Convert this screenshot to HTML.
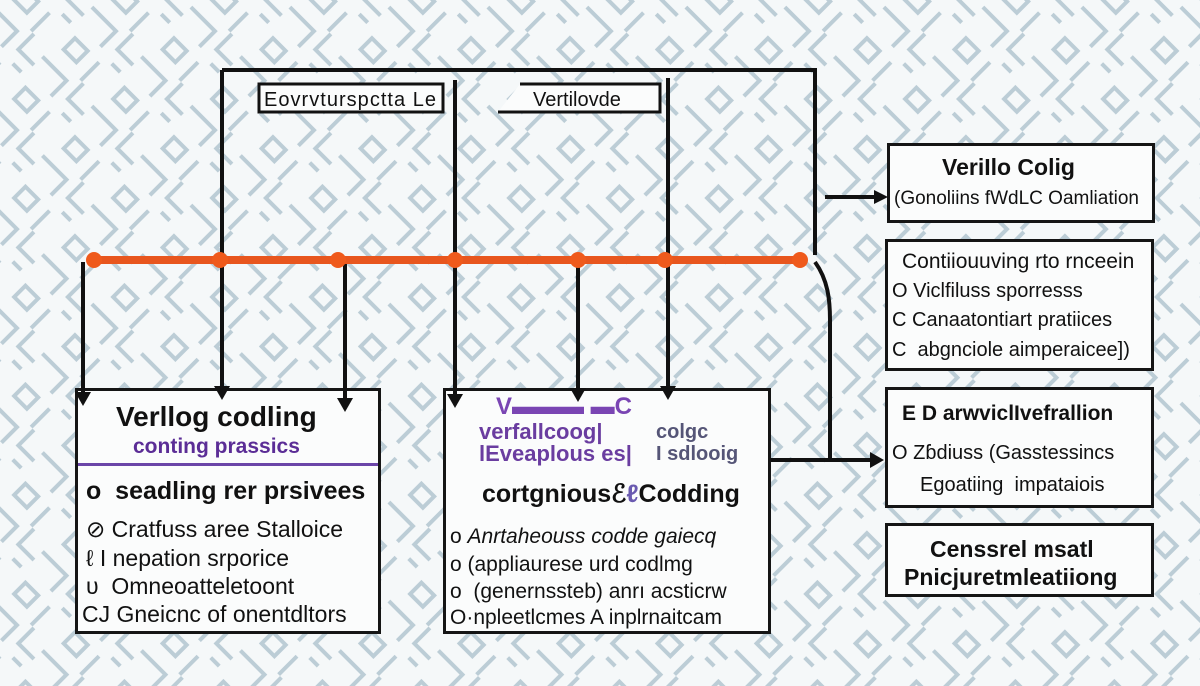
<!DOCTYPE html>
<html><head><meta charset="utf-8"><style>
html,body{margin:0;padding:0;width:1200px;height:686px;overflow:hidden;background:#f5f8f9;font-family:"Liberation Sans",sans-serif;}
svg{position:absolute;left:0;top:0}
#fg{z-index:5}
.box{position:absolute;background:#fbfcfc;border:3px solid #151515;box-sizing:border-box;color:#111;}
.t{position:absolute;white-space:nowrap;}
</style></head><body>
<svg width="1200" height="686" xmlns="http://www.w3.org/2000/svg">
<defs>
<pattern id="p" width="70" height="70" patternUnits="userSpaceOnUse" patternTransform="rotate(45)">
<g fill="none" stroke="#bccdd6" stroke-width="4">
<path d="M0 10 H34 V32"/><path d="M48 0 V22 H70"/><path d="M10 44 H28 V60 H10 Z"/><path d="M44 44 V70"/><path d="M54 36 H66"/>
</g>
</pattern>
</defs>
<rect width="1200" height="686" fill="url(#p)"/>
<g stroke="#111" stroke-width="4" fill="none">
<path d="M222 70 H815 V255"/>
<path d="M222 70 V390"/>
<path d="M455 80 V398"/>
<path d="M668 78 V390"/>
<path d="M83 262 V392"/>
<path d="M345 262 V405"/>
<path d="M578 262 V392"/>
<path d="M815 262 C828 280 830 300 830 320 V460"/>
<path d="M770 460 H872"/>
<path d="M825 197 H876"/>
</g>
<rect x="92" y="256" width="714" height="8" fill="#e8561e"/>
<g fill="#ef5a1c">
<circle cx="94" cy="260" r="8"/><circle cx="220" cy="260" r="8"/><circle cx="338" cy="260" r="8"/><circle cx="455" cy="260" r="8"/><circle cx="578" cy="260" r="8"/><circle cx="665" cy="260" r="8"/><circle cx="800" cy="260" r="8"/>
</g>
<rect x="259" y="84" width="184" height="28" fill="#fbfcfc" stroke="#111" stroke-width="3"/>
<text x="264" y="106" font-family="Liberation Sans" font-size="20" fill="#111" textLength="172">Eovrvturspctta Le</text>
<path d="M498 112 H660 V84 H520" fill="#fbfcfc" stroke="#111" stroke-width="3"/>
<text x="533" y="106" font-family="Liberation Sans" font-size="20" fill="#111">Vertilovde</text>
</svg>

<div class="box" style="left:75px;top:388px;width:306px;height:246px;">
<div class="t" style="left:38px;top:10px;font-size:28px;font-weight:bold;">Verllog codling</div>
<div class="t" style="left:55px;top:44px;font-size:21px;font-weight:bold;color:#5b2d96;">conting prassics</div>
<div style="position:absolute;left:0;right:0;top:72px;border-top:3px solid #6b45a8;"></div>
<div class="t" style="left:8px;top:86px;font-size:25px;font-weight:bold;">o&nbsp; seadling rer prsivees</div>
<div class="t" style="left:8px;top:125px;font-size:23px;">&#8856; Cratfuss aree Stalloice</div>
<div class="t" style="left:8px;top:154px;font-size:23px;">&#8467; I nepation srporice</div>
<div class="t" style="left:8px;top:182px;font-size:23px;">&#965;&nbsp; Omneoatteletoont</div>
<div class="t" style="left:4px;top:210px;font-size:23px;">CJ Gneicnc of onentdltors</div>
</div>

<div class="box" style="left:443px;top:388px;width:328px;height:246px;">
<div class="t" style="left:50px;top:2px;font-size:24px;font-weight:bold;color:#7a45b3;">V▬▬▬ ▬C</div>
<div class="t" style="left:33px;top:30px;font-size:22px;font-weight:bold;color:#6a3da0;line-height:22px;">verfallcoog|<br>lEveaplous es|</div>
<div class="t" style="left:210px;top:30px;font-size:20px;font-weight:bold;color:#557; line-height:22px;">colgc<br>I sdlooig</div>
<div class="t" style="left:36px;top:88px;font-size:25px;font-weight:bold;">cortgniousℰ<span style="color:#6a5ab0">ℓ</span>Codding</div>
<div class="t" style="left:4px;top:134px;font-size:21px;">o <i>Anrtaheouss codde gaiecq</i></div>
<div class="t" style="left:4px;top:162px;font-size:21px;">o (appliaurese urd codlmg</div>
<div class="t" style="left:4px;top:189px;font-size:21px;">o&nbsp; (genernssteb) anrı acsticrw</div>
<div class="t" style="left:4px;top:215px;font-size:21px;">O·npleetlcmes A inplrnaitcam</div>
</div>

<div class="box" style="left:887px;top:143px;width:268px;height:80px;">
<div class="t" style="left:52px;top:8px;font-size:23px;font-weight:bold;">VeriIlo Colig</div>
<div class="t" style="left:4px;top:42px;font-size:19px;">(Gonoliins fWdLC Oamliation</div>
</div>
<div class="box" style="left:885px;top:239px;width:269px;height:132px;">
<div class="t" style="left:14px;top:8px;font-size:21px;">Contiiouuving rto rnceein</div>
<div class="t" style="left:4px;top:38px;font-size:20px;">O Viclfiluss sporresss</div>
<div class="t" style="left:4px;top:67px;font-size:20px;">C Canaatontiart pratiices</div>
<div class="t" style="left:4px;top:97px;font-size:20px;">C&nbsp; abgnciole aimperaicee])</div>
</div>
<div class="box" style="left:885px;top:387px;width:269px;height:121px;">
<div class="t" style="left:14px;top:12px;font-size:21px;font-weight:bold;">E D arwviclIvefrallion</div>
<div class="t" style="left:4px;top:52px;font-size:20px;">O Zɓdiuss (Gasstessincs</div>
<div class="t" style="left:32px;top:84px;font-size:20px;">Eɡoatiing&nbsp; impataiois</div>
</div>
<div class="box" style="left:885px;top:523px;width:269px;height:74px;">
<div class="t" style="left:42px;top:10px;font-size:23px;font-weight:bold;">Censsrel msatl</div>
<div class="t" style="left:16px;top:38px;font-size:23px;font-weight:bold;">Pnicjuretmleatiiong</div>
</div>

<svg id="fg" width="1200" height="686" xmlns="http://www.w3.org/2000/svg">
<g stroke="#111" stroke-width="4">
<path d="M83 385 V398"/><path d="M222 385 V392"/><path d="M345 385 V405"/><path d="M455 385 V400"/><path d="M578 385 V392"/><path d="M668 385 V392"/>
</g>
<g fill="#111">
<path d="M75 392 L91 392 L83 406 Z"/>
<path d="M214 386 L230 386 L222 400 Z"/>
<path d="M337 398 L353 398 L345 412 Z"/>
<path d="M447 394 L463 394 L455 408 Z"/>
<path d="M570 388 L586 388 L578 402 Z"/>
<path d="M660 386 L676 386 L668 400 Z"/>
<path d="M870 452 L884 460 L870 468 Z"/>
<path d="M874 190 L888 197 L874 204 Z"/>
</g>
</svg>
</body></html>
